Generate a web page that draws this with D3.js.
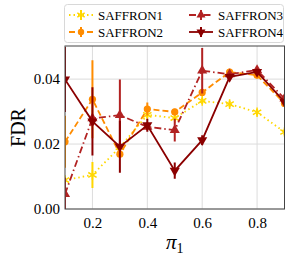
<!DOCTYPE html>
<html>
<head>
<meta charset="utf-8">
<script src="https://cdn.jsdelivr.net/npm/d3@7"></script>
<style>
  body { margin: 0; background: #fff; }
</style>
</head>
<body>
<div id="chart"></div>
<script>
// pi_1 values on the x axis
const pis = [0.1, 0.2, 0.3, 0.4, 0.5, 0.6, 0.7, 0.8, 0.9];

// FDR per method
const saffron1 = [0.0089, 0.0105, 0.0190, 0.0290, 0.0280, 0.0333, 0.0323, 0.0298, 0.0237];
const saffron2 = [0.0207, 0.0338, 0.0169, 0.0308, 0.0299, 0.0359, 0.0422, 0.0412, 0.0325];
const saffron3 = [0.0046, 0.0279, 0.0289, 0.0253, 0.0243, 0.0426, 0.0415, 0.0428, 0.0340];
const saffron4 = [0.0399, 0.0270, 0.0192, 0.0258, 0.0118, 0.0212, 0.0407, 0.0422, 0.0330];

// error bar half-widths
const err1 = [0.001, 0.004, 0.001, 0.001, 0.001, 0.001, 0.001, 0.001, 0.001];
const err2 = [0.008, 0.012, 0.001, 0.002, 0.001, 0.001, 0.001, 0.001, 0.001];
const err3 = [0.005, 0.001, 0.011, 0.001, 0.0035, 0.007, 0.001, 0.001, 0.001];
const err4 = [0.010, 0.0105, 0.008, 0.002, 0.0025, 0.0015, 0.001, 0.001, 0.001];

const names = ["SAFFRON1", "SAFFRON2", "SAFFRON3", "SAFFRON4"];
const xTicks = [0.2, 0.4, 0.6, 0.8];
const yTicks = [0.00, 0.02, 0.04];

const width = 291;
const height = 260;
const margin = {left: 65, right: 6.5, top: 46, bottom: 51};
const serif = "Liberation Serif";

const series = [
  {name: names[0], vals: saffron1, err: err1, color: "#FFD700", dash: "1.5,3", marker: "star"},
  {name: names[1], vals: saffron2, err: err2, color: "#FF8C00", dash: "6,3", marker: "circle"},
  {name: names[2], vals: saffron3, err: err3, color: "#B22222", dash: "7,3,1.5,3", marker: "up"},
  {name: names[3], vals: saffron4, err: err4, color: "#8B0000", dash: null, marker: "down"}
];

const svg = d3.select("#chart")
  .append("svg")
  .attr("width", width)
  .attr("height", height);

const x = d3.scaleLinear()
  .domain([0.1, 0.9])
  .range([margin.left, width - margin.right]);

const y = d3.scaleLinear()
  .domain([0, 0.0502])
  .range([height - margin.bottom, margin.top]);

svg.append("defs").append("clipPath")
  .attr("id", "clip")
  .append("rect")
  .attr("x", margin.left)
  .attr("y", margin.top)
  .attr("width", width - margin.left - margin.right)
  .attr("height", height - margin.top - margin.bottom);

// grid
svg.append("g")
  .selectAll("line.gx")
  .data(xTicks)
  .enter().append("line")
  .attr("x1", d => x(d)).attr("x2", d => x(d))
  .attr("y1", margin.top).attr("y2", height - margin.bottom)
  .attr("stroke", "#dcdcdc").attr("stroke-width", 1);

svg.append("g")
  .selectAll("line.gy")
  .data(yTicks)
  .enter().append("line")
  .attr("x1", margin.left).attr("x2", width - margin.right)
  .attr("y1", d => y(d)).attr("y2", d => y(d))
  .attr("stroke", "#dcdcdc").attr("stroke-width", 1);

// axes
const xAxis = svg.append("g")
  .attr("transform", `translate(0,${height - margin.bottom})`)
  .call(d3.axisBottom(x).tickValues(xTicks).tickFormat(d3.format(".1f")).tickSize(0).tickPadding(8));
xAxis.select(".domain").remove();
xAxis.selectAll("text").attr("font-size", "15px").attr("fill", "#000").attr("font-family", serif);

const yAxis = svg.append("g")
  .attr("transform", `translate(${margin.left},0)`)
  .call(d3.axisLeft(y).tickValues(yTicks).tickFormat(d3.format(".2f")).tickSize(0).tickPadding(5));
yAxis.select(".domain").remove();
yAxis.selectAll("text").attr("font-size", "15px").attr("fill", "#000").attr("font-family", serif);

// marker drawing
function drawMarker(g, type, color, size) {
  if (type === "circle") {
    g.append("circle").attr("r", size * 0.8).attr("fill", color);
  } else if (type === "star") {
    g.append("path")
      .attr("d", d3.symbol().type(d3.symbolAsterisk).size(size * size * 3.2)())
      .attr("stroke", color).attr("stroke-width", 1.5).attr("fill", "none");
  } else if (type === "up") {
    g.append("path")
      .attr("d", d3.symbol().type(d3.symbolTriangle).size(size * size * 2.2)())
      .attr("fill", color);
  } else {
    g.append("path")
      .attr("d", d3.symbol().type(d3.symbolTriangle).size(size * size * 2.2)())
      .attr("transform", "rotate(180)")
      .attr("fill", color);
  }
}

const plot = svg.append("g").attr("clip-path", "url(#clip)");

const line = d3.line()
  .x((d, i) => x(pis[i]))
  .y(d => y(d));

series.forEach(s => {
  const g = plot.append("g");
  // error bars
  g.selectAll("line.err")
    .data(s.vals)
    .enter().append("line")
    .attr("x1", (d, i) => x(pis[i]))
    .attr("x2", (d, i) => x(pis[i]))
    .attr("y1", (d, i) => y(d - s.err[i]))
    .attr("y2", (d, i) => y(d + s.err[i]))
    .attr("stroke", s.color)
    .attr("stroke-width", 2);

  g.append("path")
    .datum(s.vals)
    .attr("d", line)
    .attr("fill", "none")
    .attr("stroke", s.color)
    .attr("stroke-width", 1.8)
    .attr("stroke-dasharray", s.dash);

  s.vals.forEach((v, i) => {
    const m = g.append("g").attr("transform", `translate(${x(pis[i])},${y(v)})`);
    drawMarker(m, s.marker, s.color, 4.5);
  });
});

// frame
svg.append("rect")
  .attr("x", margin.left)
  .attr("y", margin.top)
  .attr("width", width - margin.left - margin.right)
  .attr("height", height - margin.top - margin.bottom)
  .attr("fill", "none")
  .attr("stroke", "#444")
  .attr("stroke-width", 1);

// axis labels
svg.append("text")
  .attr("transform", `translate(25,${(margin.top + height - margin.bottom) / 2}) rotate(-90)`)
  .attr("text-anchor", "middle")
  .attr("font-family", serif)
  .attr("font-size", "20px")
  .text("FDR");

svg.append("text")
  .attr("x", (margin.left + width - margin.right) / 2)
  .attr("y", 249)
  .attr("text-anchor", "middle")
  .attr("font-family", serif)
  .attr("font-size", "21px")
  .attr("font-style", "italic")
  .html("π<tspan font-size='14px' font-style='normal' dy='4'>1</tspan>");

// legend
const legend = svg.append("g");
legend.append("rect")
  .attr("x", 64.5).attr("y", 4.5)
  .attr("width", 219).attr("height", 38)
  .attr("rx", 3)
  .attr("fill", "#fff")
  .attr("fill-opacity", 0.8)
  .attr("stroke", "#d8d8d8");

const legPos = [[69, 15], [69, 32], [189, 15], [189, 32]];
series.forEach((s, k) => {
  const [lx, ly] = legPos[k];
  const g = legend.append("g").attr("transform", `translate(${lx},${ly})`);
  g.append("line")
    .attr("x1", 0).attr("x2", 24)
    .attr("stroke", s.color).attr("stroke-width", 1.8)
    .attr("stroke-dasharray", s.dash);
  g.append("line")
    .attr("x1", 12).attr("x2", 12).attr("y1", -5).attr("y2", 5)
    .attr("stroke", s.color).attr("stroke-width", 2);
  drawMarker(g.append("g").attr("transform", "translate(12,0)"), s.marker, s.color, 4);
  g.append("text")
    .attr("x", 29).attr("y", 4.5)
    .attr("font-family", serif)
    .attr("font-size", "13px")
    .text(s.name);
});
</script>
</body>
</html>
